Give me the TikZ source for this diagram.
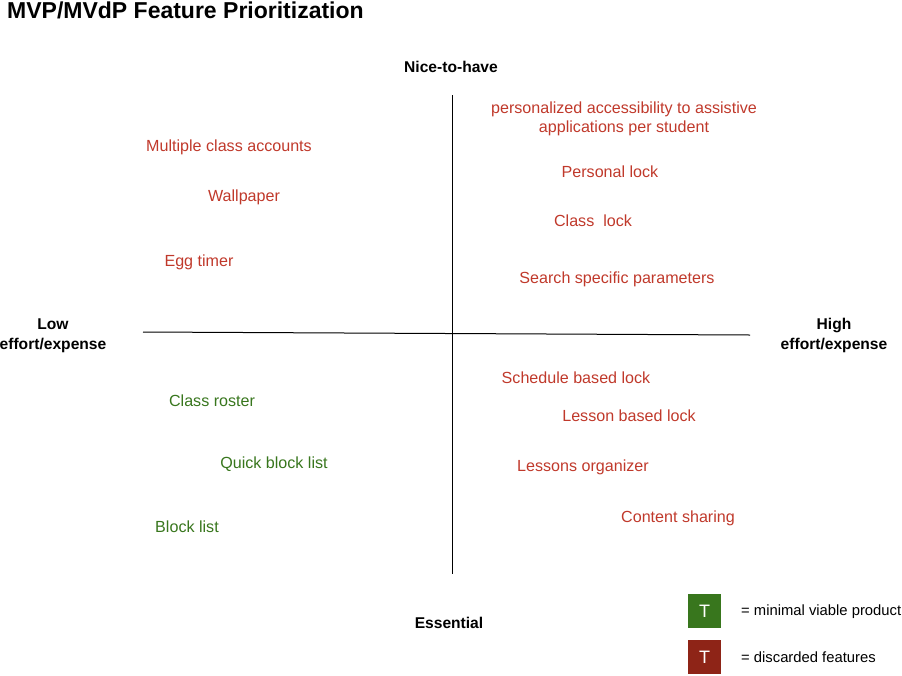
\documentclass[tikz,border=0pt]{standalone}
\usepackage{fontspec}
\setmainfont{Liberation Sans}
\definecolor{discard}{HTML}{C0392B}
\definecolor{mvp}{HTML}{38761D}
\definecolor{mvpbox}{HTML}{38761D}
\definecolor{discbox}{HTML}{8E2417}
\begin{document}
\begin{tikzpicture}[x=1pt,y=-1pt,
  lbl/.style={font=\fontsize{16.1}{19}\selectfont, inner sep=0pt, align=center, yshift=-1pt},
  red/.style={lbl, text=discard},
  grn/.style={lbl, text=mvp},
  axislbl/.style={font=\bfseries\fontsize{15.6}{20}\selectfont, inner sep=0pt, align=center, yshift=-0.5pt},
  axisline/.style={line width=1pt, black},
  legbox/.style={minimum width=33pt, minimum height=34pt, inner sep=0pt, text=white, font=\fontsize{18}{20}\selectfont},
  legtxt/.style={font=\fontsize{14.8}{16}\selectfont, inner sep=0pt, anchor=west, yshift=-0.5pt}]
\useasboundingbox (0,0) rectangle (902,675);
\node[anchor=west, inner sep=0pt, font=\bfseries\fontsize{23}{26}\selectfont] (title) at (7,10.5) {MVP/MVdP Feature Prioritization};
% axes
\coordinate (hl) at (143,332);
\coordinate (hr) at (750,335);
\coordinate (vt) at (452,95);
\coordinate (vb) at (452,574);
\draw[axisline] (hl) -- (hr);
\draw[axisline] (vt) -- (vb);
\node[axislbl] (nice) at (451,66) {Nice-to-have};
\node[axislbl] (ess) at (449,622) {Essential};
\node[axislbl] (low) at (53,335) {Low\\effort/expense};
\node[axislbl] (high) at (834,335) {High\\effort/expense};
% discarded
\node[red] (pa) at (624,118) {personalized accessibility to assistive\\applications per student};
\node[red] (pl) at (610,171) {Personal lock};
\node[red] (cl) at (593,220) {Class\ \ lock};
\node[red] (ssp) at (617,278) {Search specific parameters};
\node[red] (mca) at (229,146) {Multiple class accounts};
\node[red] (wp) at (244,196) {Wallpaper};
\node[red] (egg) at (199,261) {Egg timer};
\node[red] (sbl) at (576,377) {Schedule based lock};
\node[red] (lbl) at (629,415) {Lesson based lock};
\node[red] (lo) at (583,466) {Lessons organizer};
\node[red] (cs) at (678,517) {Content sharing};
% mvp
\node[grn] (cr) at (212,400) {Class roster};
\node[grn] (qbl) at (274,463) {Quick block list};
\node[grn] (bl) at (187,526) {Block list};
% legend
\node[legbox, fill=mvpbox] (lg1) at (704.5,611) {T};
\node[legbox, fill=discbox] (lg2) at (704.5,657) {T};
\node[legtxt] (lt1) at (741,611) {= minimal viable product};
\node[legtxt] (lt2) at (741,657) {= discarded features};
\end{tikzpicture}
\end{document}
